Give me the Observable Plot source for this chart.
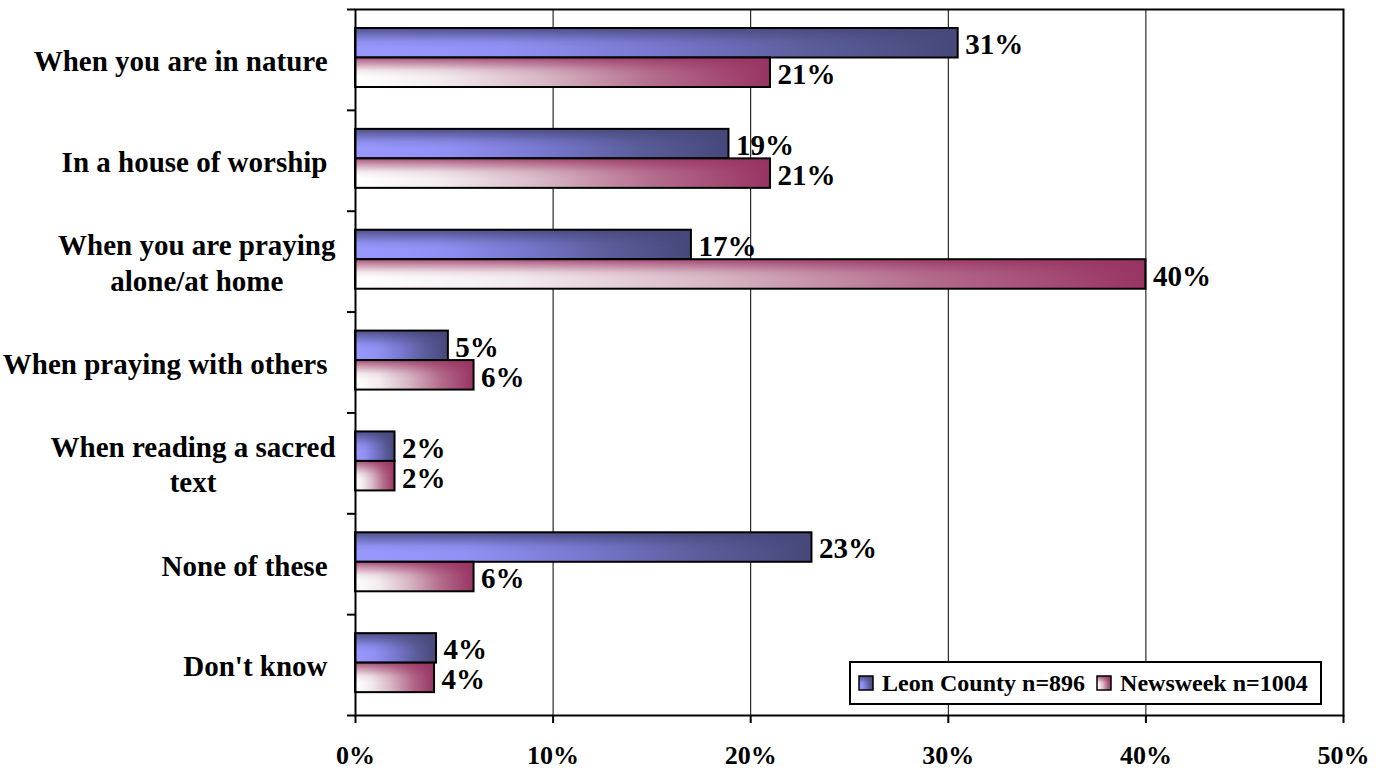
<!DOCTYPE html>
<html><head><meta charset="utf-8">
<script src="https://cdn.jsdelivr.net/npm/d3@7"></script>
<script src="https://cdn.jsdelivr.net/npm/@observablehq/plot@0.6"></script>
<style>
body{margin:0;background:#fff;}
#wrap{position:relative;width:1381px;height:771px;}
#legend{position:absolute;left:849px;top:661px;width:473px;height:44px;box-sizing:border-box;border:2px solid #000;background:#fff;display:flex;align-items:center;font:bold 24px "Liberation Serif",serif;color:#000;white-space:nowrap;padding-left:7px;}
#legend .sw{display:inline-block;width:16px;height:16px;margin-right:8px;}
#legend .item{display:flex;align-items:center;margin-right:11px;}
</style></head>
<body>
<svg width="0" height="0" style="position:absolute">
<defs>
<linearGradient id="gBlueH" x1="0" y1="0" x2="1" y2="0">
<stop offset="0" stop-color="#9898ff"/>
<stop offset="0.25" stop-color="#9090f4"/>
<stop offset="0.5" stop-color="#7878cf"/>
<stop offset="0.75" stop-color="#5c5e9c"/>
<stop offset="1" stop-color="#46487a"/>
</linearGradient>
<linearGradient id="gBlueV" x1="0" y1="0" x2="0" y2="1">
<stop offset="0" stop-color="#46487a" stop-opacity="0.9"/>
<stop offset="0.2" stop-color="#46487a" stop-opacity="0.55"/>
<stop offset="0.45" stop-color="#46487a" stop-opacity="0.12"/>
<stop offset="0.65" stop-color="#46487a" stop-opacity="0"/>
</linearGradient>
<linearGradient id="gRedH" x1="0" y1="0" x2="1" y2="0">
<stop offset="0" stop-color="#ffffff"/>
<stop offset="0.2" stop-color="#f3ecef"/>
<stop offset="0.45" stop-color="#d8b7c6"/>
<stop offset="0.72" stop-color="#b46c8c"/>
<stop offset="1" stop-color="#983462"/>
</linearGradient>
<linearGradient id="gRedV" x1="0" y1="0" x2="0" y2="1">
<stop offset="0" stop-color="#983462" stop-opacity="0.85"/>
<stop offset="0.2" stop-color="#983462" stop-opacity="0.5"/>
<stop offset="0.45" stop-color="#983462" stop-opacity="0.1"/>
<stop offset="0.65" stop-color="#983462" stop-opacity="0"/>
</linearGradient>
</defs>
</svg>
<div id="wrap"></div>
<script>
const categories = [
  "When you are in nature",
  "In a house of worship",
  "When you are praying\nalone/at home",
  "When praying with others",
  "When reading a sacred\ntext",
  "None of these",
  "Don't know"
];
const leonValues = [30.5, 18.9, 17.0, 4.7, 2.0, 23.1, 4.1];
const newsweekValues = [21.0, 21.0, 40.0, 6.0, 2.0, 6.0, 4.0];
const seriesNames = ["Leon County n=896", "Newsweek n=1004"];
const xTicks = [0, 10, 20, 30, 40, 50];

const W = 1381, H = 771, mL = 355, mR = 38, mT = 9, mB = 56;
const bw = (H - mT - mB) / categories.length;
const FONT = '"Liberation Serif", "Times New Roman", serif';

const leon = categories.map((c, i) => ({category: c, value: leonValues[i]}));
const news = categories.map((c, i) => ({category: c, value: newsweekValues[i]}));

const topA = 19, midA = 48.5, botA = 78;
const leonInset = {insetTop: topA, insetBottom: bw - midA};
const newsInset = {insetTop: midA, insetBottom: bw - botA};

function barSet(data, inset, gH, gV) {
  return [
    Plot.barX(data, {x: "value", y: "category", fill: gH, ...inset}),
    Plot.barX(data, {x: "value", y: "category", fill: gV, ...inset}),
    Plot.barX(data, {x: "value", y: "category", fill: "none", stroke: "#000", strokeWidth: 2, ...inset})
  ];
}

const ctx = document.createElement("canvas").getContext("2d");
ctx.font = 'bold 29px ' + FONT;
const labelMarks = categories.map(c => {
  const lines = c.split("\n");
  const w = Math.max(...lines.map(l => ctx.measureText(l).width));
  const gap = lines.length > 1 ? 20 : 28;
  return Plot.text([c], {
    y: d => d, text: d => d, frameAnchor: "left", textAnchor: "middle",
    dx: -(gap + w / 2), fontSize: 29, fontWeight: "bold", fontFamily: FONT,
    lineHeight: 1.22, fill: "#000"
  });
});

const valueText = (data, dy) => Plot.text(data, {
  x: "value", y: "category", text: d => Math.round(d.value) + "%",
  textAnchor: "start", dx: 7, dy, fontSize: 29, fontWeight: "bold", fontFamily: FONT, fill: "#000"
});

const chart = Plot.plot({
  width: W, height: H,
  marginLeft: mL, marginRight: mR, marginTop: mT, marginBottom: mB,
  style: {fontFamily: FONT, fontSize: "26px", fontWeight: "bold", color: "#000", background: "#fff"},
  x: {domain: [0, 50], axis: null},
  y: {domain: categories, padding: 0, round: false, axis: null},
  marks: [
    Plot.gridX({ticks: [10, 20, 30, 40], stroke: "#000", strokeOpacity: 1, strokeWidth: 1}),
    ...barSet(leon, leonInset, "url(#gBlueH)", "url(#gBlueV)"),
    ...barSet(news, newsInset, "url(#gRedH)", "url(#gRedV)"),
    Plot.frame({stroke: "#000", strokeWidth: 2}),
    Plot.axisX({ticks: xTicks, tickSize: 8, tickPadding: 22, strokeWidth: 2,
      tickFormat: d => d + "%", fontSize: 26, fontWeight: "bold", fontFamily: FONT, label: null}),
    Plot.axisY({ticks: categories, tickSize: 8, tickFormat: () => "", strokeWidth: 2, dy: -bw / 2, label: null}),
    Plot.axisY({ticks: [categories[categories.length - 1]], tickSize: 8, tickFormat: () => "", strokeWidth: 2, dy: bw / 2, label: null}),
    valueText(leon, -15),
    valueText(news, 15),
    ...labelMarks
  ]
});

const wrap = document.getElementById("wrap");
wrap.appendChild(chart);

const legend = document.createElement("div");
legend.id = "legend";
const grads = [["url(#gBlueH)", "url(#gBlueV)"], ["url(#gRedH)", "url(#gRedV)"]];
seriesNames.forEach((name, i) => {
  const item = document.createElement("div");
  item.className = "item";
  item.innerHTML = `<svg class="sw" width="16" height="16"><rect x="1" y="1" width="14" height="14" fill="${grads[i][0]}"/><rect x="1" y="1" width="14" height="14" fill="${grads[i][1]}"/><rect x="1" y="1" width="14" height="14" fill="none" stroke="#000" stroke-width="1.5"/></svg><span>${name}</span>`;
  legend.appendChild(item);
});
wrap.appendChild(legend);
</script>
</body></html>
